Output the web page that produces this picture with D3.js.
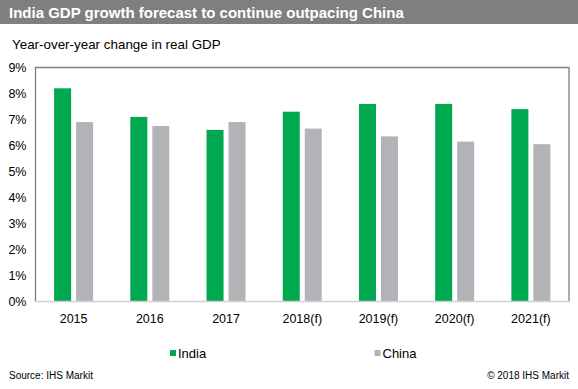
<!DOCTYPE html>
<html>
<head>
<meta charset="utf-8">
<script src="https://cdn.jsdelivr.net/npm/d3@7"></script>
<style>
  body { margin: 0; background: #fff; }
  svg { font-family: "Liberation Sans", Arial, sans-serif; display: block; }
</style>
</head>
<body>
<div id="chart"></div>
<script>
// chart data
var years = ["2015", "2016", "2017", "2018(f)", "2019(f)", "2020(f)", "2021(f)"];
var india = [8.2, 7.1, 6.6, 7.3, 7.6, 7.6, 7.4];
var china = [6.9, 6.75, 6.9, 6.65, 6.35, 6.15, 6.05];
var seriesNames = ["India", "China"];
var yTicks = [0, 1, 2, 3, 4, 5, 6, 7, 8, 9];

var W = 578, H = 389;
var margin = { top: 67.5, right: 9, bottom: 87.5, left: 35.5 },
    width = W - margin.left - margin.right,
    height = H - margin.top - margin.bottom;

var colors = { India: "#00a94f", China: "#b2b3b6" };

var svg = d3.select("#chart").append("svg")
    .attr("width", W)
    .attr("height", H);

// title bar
svg.append("rect")
    .attr("x", 0).attr("y", 0)
    .attr("width", W).attr("height", 24)
    .attr("fill", "#7f7f7f");
svg.append("text")
    .attr("x", 9).attr("y", 18)
    .attr("fill", "#fff")
    .attr("font-size", 15)
    .attr("font-weight", "bold")
    .text("India GDP growth forecast to continue outpacing China");

svg.append("text")
    .attr("x", 12).attr("y", 49)
    .attr("fill", "#000")
    .attr("font-size", 13.4)
    .text("Year-over-year change in real GDP");

var g = svg.append("g")
    .attr("transform", "translate(" + margin.left + "," + margin.top + ")");

var x = d3.scaleBand()
    .domain(years)
    .range([0, width]);

var y = d3.scaleLinear()
    .domain([0, 9])
    .range([height, 0]);

var barW = 17, gap = 5;

// frame: left, top, right
g.append("path")
    .attr("d", "M0," + height + "V0H" + width + "V" + height)
    .attr("fill", "none")
    .attr("stroke", "#7f7f7f")
    .attr("stroke-width", 1.3);

// bars
var data = years.map(function (d, i) { return { year: d, India: india[i], China: china[i] }; });

seriesNames.forEach(function (s, k) {
    g.selectAll(".bar-" + s)
        .data(data)
        .enter().append("rect")
        .attr("class", "bar-" + s)
        .attr("x", function (d) {
            var c = x(d.year) + x.bandwidth() / 2;
            return k === 0 ? c - gap / 2 - barW : c + gap / 2;
        })
        .attr("y", function (d) { return y(d[s]); })
        .attr("width", barW)
        .attr("height", function (d) { return height - y(d[s]); })
        .attr("fill", colors[s]);
});

// bottom axis line
g.append("line")
    .attr("x1", 0).attr("x2", width)
    .attr("y1", height).attr("y2", height)
    .attr("stroke", "#d0d0d0")
    .attr("stroke-width", 1.3);

// x labels
g.selectAll(".xlab")
    .data(years)
    .enter().append("text")
    .attr("class", "xlab")
    .attr("x", function (d) { return x(d) + x.bandwidth() / 2; })
    .attr("y", height + 21)
    .attr("text-anchor", "middle")
    .attr("font-size", 12.5)
    .attr("fill", "#000")
    .text(function (d) { return d; });

// y labels
g.selectAll(".ylab")
    .data(yTicks)
    .enter().append("text")
    .attr("class", "ylab")
    .attr("x", -9)
    .attr("y", function (d) { return y(d) + 4.5; })
    .attr("text-anchor", "end")
    .attr("font-size", 12.5)
    .attr("fill", "#000")
    .text(function (d) { return d + "%"; });

// legend
var legendX = [170, 374.5];
seriesNames.forEach(function (s, k) {
    svg.append("rect")
        .attr("x", legendX[k]).attr("y", 350)
        .attr("width", 6).attr("height", 6)
        .attr("fill", colors[s]);
    svg.append("text")
        .attr("x", legendX[k] + 8).attr("y", 357.5)
        .attr("font-size", 13)
        .attr("fill", "#000")
        .text(s);
});

// footer
svg.append("text")
    .attr("x", 9).attr("y", 379)
    .attr("font-size", 10)
    .attr("fill", "#000")
    .text("Source: IHS Markit");
svg.append("text")
    .attr("x", 569).attr("y", 379)
    .attr("text-anchor", "end")
    .attr("font-size", 10)
    .attr("fill", "#000")
    .text("\u00a9 2018 IHS Markit");
</script>
</body>
</html>
